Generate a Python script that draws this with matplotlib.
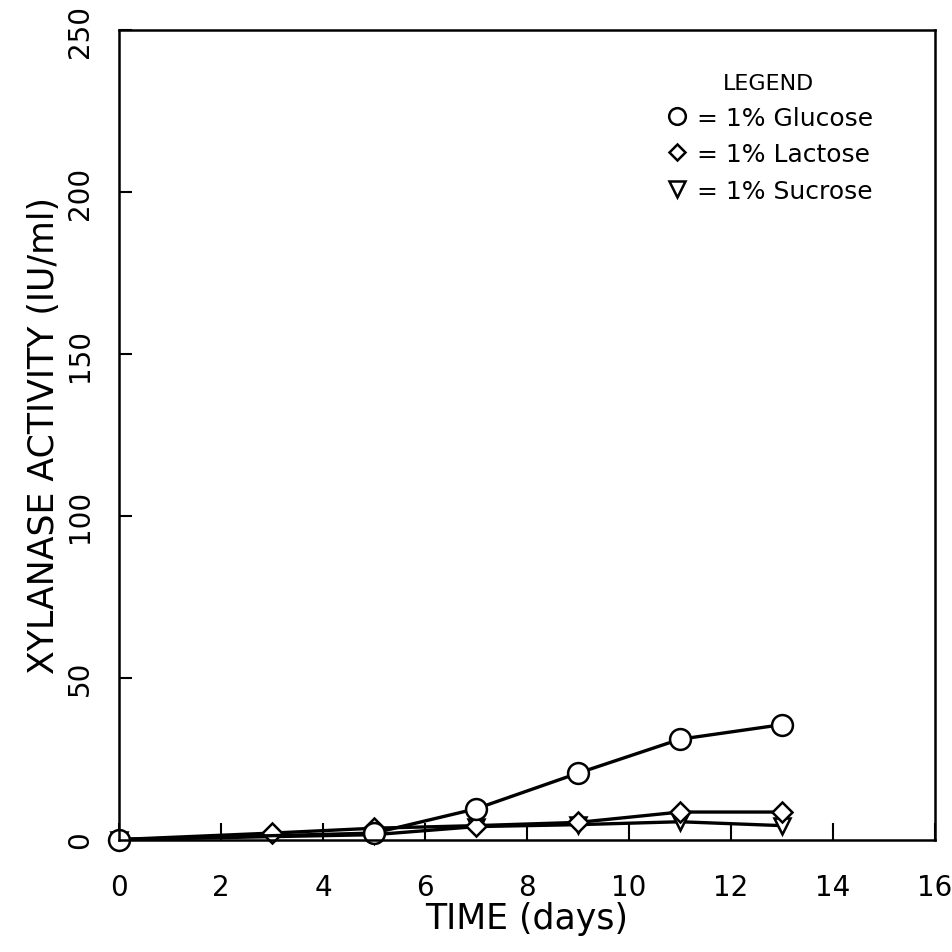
import matplotlib
matplotlib.use("Agg")
import matplotlib.pyplot as plt
from matplotlib.lines import Line2D

# data
glucose_days = [0, 5, 7, 9, 11, 13]
glucose_activity = [0, 2, 9.5, 20.5, 31, 35.5]

lactose_days = [0, 3, 5, 7, 9, 11, 13]
lactose_activity = [0, 2, 3.5, 4.3, 5.3, 8.5, 8.5]

sucrose_days = [0, 5, 7, 9, 11, 13]
sucrose_activity = [0, 1.5, 4, 4.6, 5.5, 4.3]

x_ticks = [0, 2, 4, 6, 8, 10, 12, 14, 16]
y_ticks = [0, 50, 100, 150, 200, 250]
legend_labels = ["= 1% Glucose", "= 1% Lactose", "= 1% Sucrose"]

fig = plt.figure(figsize=(9.53, 9.53), dpi=100)
ax = fig.add_axes([0.125, 0.118, 0.856, 0.849])

line_kw = dict(color="black", linewidth=2.4, markerfacecolor="white",
               markeredgecolor="black", markeredgewidth=1.8, clip_on=False)

# plotting the three series
ax.plot(sucrose_days, sucrose_activity, marker="v", markersize=12, **line_kw)
ax.plot(lactose_days, lactose_activity, marker="D", markersize=10, **line_kw)
ax.plot(glucose_days, glucose_activity, marker="o", markersize=15, **line_kw)

ax.set_xlim(0, 16)
ax.set_ylim(0, 250)
ax.set_xticks(x_ticks)
ax.set_yticks(y_ticks)
ax.tick_params(axis="both", direction="in", width=1.5, labelsize=20)
ax.tick_params(axis="x", length=12, pad=24)
ax.tick_params(axis="y", length=9, pad=18)
for lbl in ax.get_yticklabels():
    lbl.set_rotation(90)
    lbl.set_va("center")

for s in ax.spines.values():
    s.set_linewidth(1.8)

ax.set_xlabel("TIME (days)", fontsize=25, labelpad=0)
ax.set_ylabel("XYLANASE ACTIVITY (IU/ml)", fontsize=25, labelpad=4)

# legend with only the marker symbols
handles = [
    Line2D([], [], linestyle="", marker="o", markersize=12, markerfacecolor="white",
           markeredgecolor="black", markeredgewidth=1.8),
    Line2D([], [], linestyle="", marker="D", markersize=8, markerfacecolor="white",
           markeredgecolor="black", markeredgewidth=1.8),
    Line2D([], [], linestyle="", marker="v", markersize=11, markerfacecolor="white",
           markeredgecolor="black", markeredgewidth=1.8),
]
leg = ax.legend(handles, legend_labels, title="LEGEND", frameon=False,
                loc="upper right", bbox_to_anchor=(0.952, 0.975), fontsize=18,
                title_fontsize=16, handlelength=1.0, handletextpad=0.3,
                labelspacing=0.5)

fig.savefig("out.png", dpi=100)
